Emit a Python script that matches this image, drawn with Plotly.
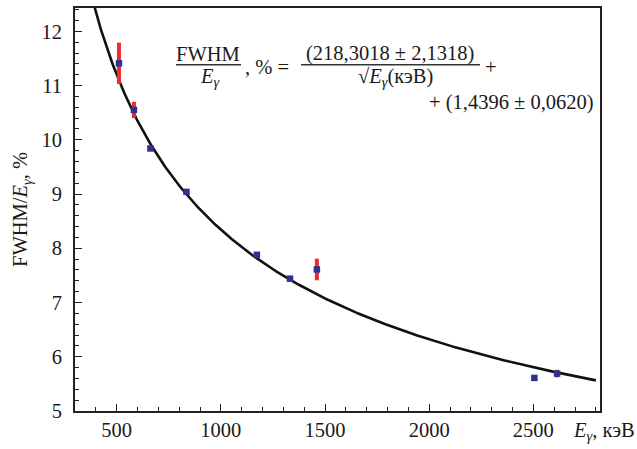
import numpy as np
import plotly.graph_objects as go

# Measured gamma lines: energy (keV), relative resolution FWHM/E (%), uncertainty (%)
energy_kev = [511, 583, 662, 835, 1173, 1332, 1461, 2505, 2614]
fwhm_pct = [11.41, 10.55, 9.84, 9.04, 7.88, 7.44, 7.61, 5.61, 5.69]
fwhm_err = [0.38, 0.15, 0.0, 0.0, 0.0, 0.0, 0.20, 0.0, 0.07]

# Fit coefficients: FWHM/E = A / sqrt(E) + B
fit_a = 218.3018
fit_b = 1.4396
fit_e_min, fit_e_max = 380, 2800

x_ticks = [500, 1000, 1500, 2000, 2500]
y_ticks = [5, 6, 7, 8, 9, 10, 11, 12]

FONT = "Liberation Serif"
INK = "#1a1a1a"
FS = 20.5

fit_e = np.linspace(fit_e_min, fit_e_max, 400)
fit_y = fit_a / np.sqrt(fit_e) + fit_b

fig = go.Figure()
fig.add_trace(go.Scatter(
    x=fit_e, y=fit_y, mode="lines",
    line=dict(color="#111111", width=2.6),
    hoverinfo="skip", showlegend=False,
))
fig.add_trace(go.Scatter(
    x=energy_kev, y=fwhm_pct, mode="markers",
    marker=dict(symbol="square", size=6.5, color="#2E3192"),
    error_y=dict(type="data", array=fwhm_err, symmetric=True,
                 color="#EE2A2F", thickness=4, width=0),
    showlegend=False,
))

W, H = 637, 449
ML, MR, MT, MB = 75, 37, 6, 38
PW, PH = W - ML - MR, H - MT - MB


def px(xp):
    return (xp - ML) / PW


def py(yp):
    return (H - MB - yp) / PH


def note(text, xp, yp, anchor="center", size=FS):
    fig.add_annotation(
        text=text, x=px(xp), y=py(yp), xref="paper", yref="paper",
        xanchor=anchor, yanchor="middle", showarrow=False,
        font=dict(family=FONT, size=size, color=INK),
    )


def bar(x0, x1, yp):
    fig.add_shape(type="line", xref="paper", yref="paper",
                  x0=px(x0), x1=px(x1), y0=py(yp), y1=py(yp),
                  line=dict(color="#333333", width=1.4))


E_G = "<i>E</i><sub><i>γ</i></sub>"

# Fit formula
note("FWHM", 208, 52)
bar(176, 241, 63)
note(E_G, 210, 76)
note(", % =", 243, 65, anchor="left")
note("(218,3018 ± 2,1318)", 390, 52)
bar(301, 480, 63)
note("√" + E_G + "(кэВ)", 395, 76)
note("+", 491, 65)
note("+ (1,4396 ± 0,0620)", 596, 101, anchor="right")

# x-axis title at the right end of the tick-label row
note(E_G + ", кэВ", 637, 432, anchor="right")

axis_common = dict(
    showline=True, linecolor="#222222", linewidth=1.6, mirror=True,
    ticks="inside", ticklen=7, tickwidth=1.3, tickcolor="#222222",
    showgrid=False, zeroline=False,
    tickfont=dict(family=FONT, size=FS, color=INK),
)

fig.update_xaxes(
    range=[300, 2820], tickvals=x_ticks,
    minor=dict(dtick=100, ticks="inside", ticklen=4, tickwidth=1.2, tickcolor="#222222"),
    **axis_common,
)
fig.update_yaxes(
    range=[5, 12.43], tickvals=y_ticks, ticklabelstandoff=7,
    minor=dict(dtick=0.2, ticks="inside", ticklen=4, tickwidth=1.2, tickcolor="#222222"),
    title=dict(text="FWHM/" + E_G + ", %", font=dict(family=FONT, size=FS, color=INK), standoff=8),
    **axis_common,
)

fig.update_layout(
    width=W, height=H,
    margin=dict(l=ML, r=MR, t=MT, b=MB),
    paper_bgcolor="white", plot_bgcolor="white",
    font=dict(family=FONT, size=FS, color=INK),
)

fig.write_html("out.html")
